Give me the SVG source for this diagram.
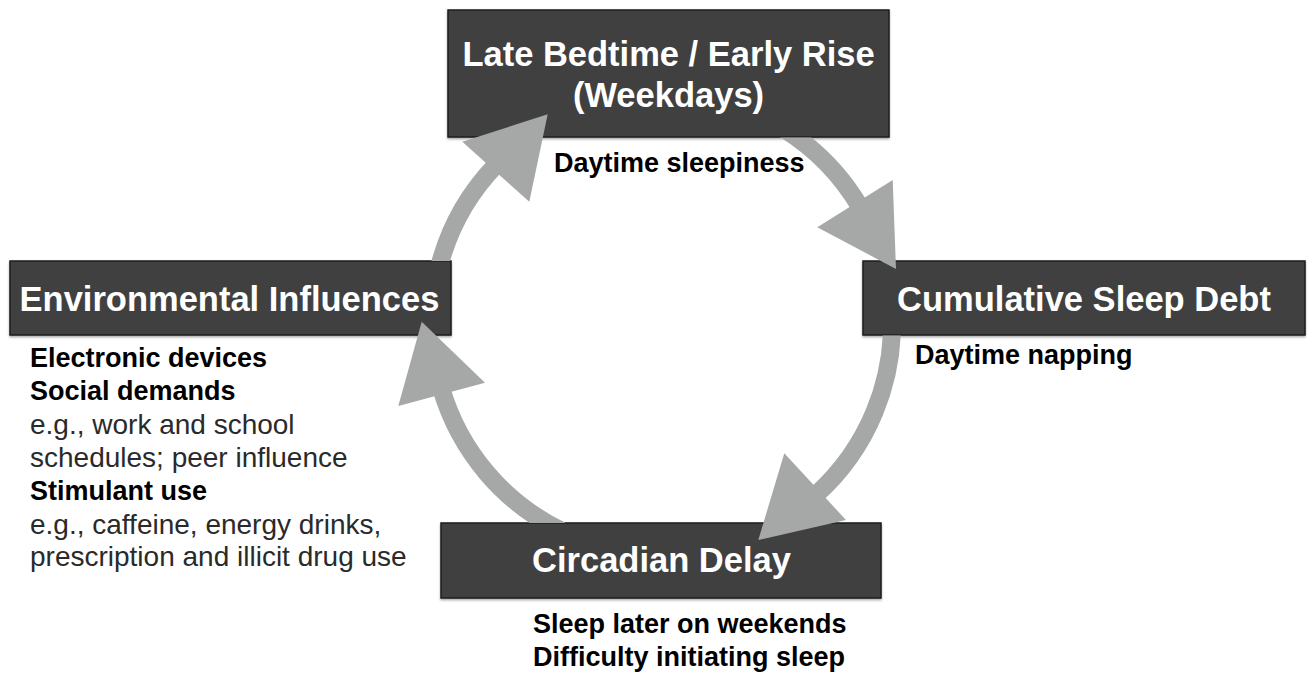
<svg xmlns="http://www.w3.org/2000/svg" width="1311" height="675" viewBox="0 0 1311 675">
<style>
.box{fill:#414141;stroke:#1c1c1c;stroke-width:1.5;filter:url(#sh)}
.bt{font-family:"Liberation Sans",Arial,sans-serif;font-weight:bold;font-size:34.5px;fill:#ffffff;text-anchor:middle}
.lb{font-family:"Liberation Sans",Arial,sans-serif;font-weight:bold;font-size:27px;fill:#000000}
.lr{font-family:"Liberation Sans",Arial,sans-serif;font-size:28px;fill:#2a2a2a}
.shaft{fill:none;stroke:#a5a8a7;stroke-width:18}
.head{fill:#a5a8a7}
</style>
<defs>
<filter id="sh" x="-5%" y="-10%" width="110%" height="130%">
<feDropShadow dx="0" dy="1.5" stdDeviation="1.2" flood-color="#000" flood-opacity="0.35"/>
</filter>
<clipPath id="c1"><rect x="0" y="0" width="1311" height="261"/></clipPath>
<clipPath id="c2"><rect x="0" y="137.5" width="1311" height="540"/></clipPath>
<clipPath id="c3"><rect x="0" y="335.5" width="1311" height="340"/></clipPath>
<clipPath id="c4"><rect x="0" y="0" width="1311" height="523"/></clipPath>
</defs>
<rect width="1311" height="675" fill="#ffffff"/>
<g id="node-late-bedtime">
<rect class="box" x="448" y="10" width="441" height="127"/>
<text class="bt" x="668.5" y="66">Late Bedtime / Early Rise</text>
<text class="bt" x="668.5" y="107">(Weekdays)</text>
</g>
<g id="node-environmental">
<rect class="box" x="10" y="261" width="441" height="74"/>
<text class="bt" x="229.5" y="310.5">Environmental Influences</text>
</g>
<g id="node-sleep-debt">
<rect class="box" x="863" y="261" width="442" height="74"/>
<text class="bt" x="1084" y="310.5">Cumulative Sleep Debt</text>
</g>
<g id="node-circadian">
<rect class="box" x="441" y="523" width="440" height="75"/>
<text class="bt" x="661.5" y="572">Circadian Delay</text>
</g>
<g id="connectors">
<path class="shaft" clip-path="url(#c1)" d="M435.5 284.1 A230 230 0 0 1 496.6 164.2"/>
<polygon class="head" points="462.3,141.7 547.7,114.3 529.3,201.7"/>
<path class="shaft" clip-path="url(#c2)" d="M783.9 128.9 A230 230 0 0 1 860.2 207.3"/>
<polygon class="head" points="892.7,180 896,269 817.3,227.3"/>
<path class="shaft" clip-path="url(#c3)" d="M891.7 312 A230 230 0 0 1 815.9 494.9"/>
<polygon class="head" points="846,520 758.3,540 784.3,453.3"/>
<path class="shaft" clip-path="url(#c4)" d="M561.2 530.7 A230 230 0 0 1 441.5 389.3"/>
<polygon class="head" points="398.3,406 421.7,321.7 485,382.7"/>
</g>
<g id="labels">
<text class="lb" x="554" y="172">Daytime sleepiness</text>
<text class="lb" x="915" y="364">Daytime napping</text>
<text class="lb" x="30" y="367">Electronic devices</text>
<text class="lb" x="30" y="400">Social demands</text>
<text class="lr" x="30" y="434">e.g., work and school</text>
<text class="lr" x="30" y="467">schedules; peer influence</text>
<text class="lb" x="30" y="500">Stimulant use</text>
<text class="lr" x="30" y="534">e.g., caffeine, energy drinks,</text>
<text class="lr" x="30" y="566">prescription and illicit drug use</text>
<text class="lb" x="533" y="633">Sleep later on weekends</text>
<text class="lb" x="533" y="666">Difficulty initiating sleep</text>
</g>
</svg>
